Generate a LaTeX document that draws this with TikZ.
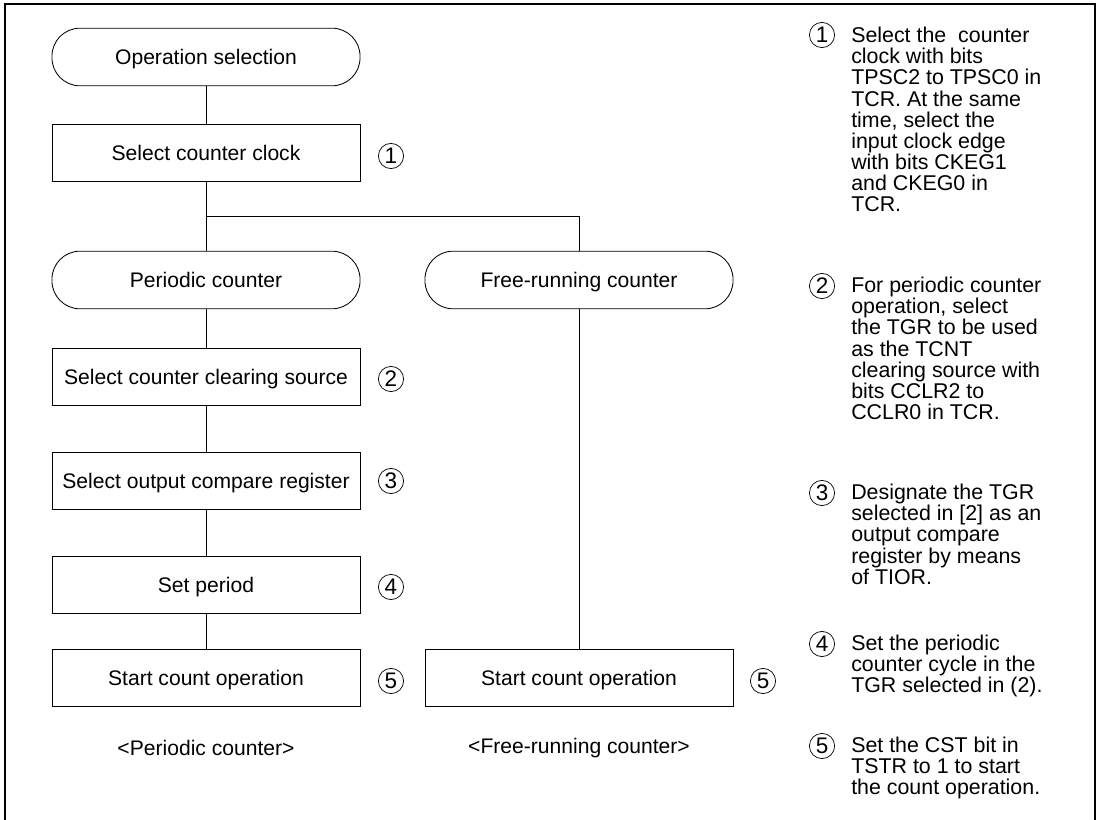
\documentclass[tikz,border=0pt]{standalone}
\usepackage{fontspec}
\setmainfont{Liberation Sans}
\usepackage{tikz}
\usetikzlibrary{positioning}
\tikzset{
  term/.style  ={draw, rounded corners=0.7cm, minimum width=7.7cm,
                 minimum height=1.44cm, inner sep=0pt, line width=0.6pt,
                 text height=12pt, text depth=1.5pt,
                 font=\fontsize{15}{15}\selectfont},
  stepbox/.style={draw, minimum width=7.7cm, minimum height=1.44cm,
                 inner sep=0pt, line width=0.6pt,
                 text height=12pt, text depth=1.5pt,
                 font=\fontsize{15}{15}\selectfont},
  num/.style   ={draw, circle, minimum size=0.63cm, inner sep=0pt,
                 line width=0.5pt, font=\fontsize{16}{16}\selectfont},
  lnk/.style   ={line width=0.6pt},
  capt/.style  ={font=\fontsize{15}{15}\selectfont},
  note/.style  ={anchor=north west, align=left, inner sep=0pt,
                 font=\fontsize{15.2}{15}\selectfont},
}

\begin{document}
\begin{tikzpicture}[x=0.025cm, y=-0.025cm]
  \useasboundingbox (0,0) rectangle (1099,820);
  \draw[line width=0.8pt] (5,822) -- (5,4) -- (1095,4) -- (1095,822);
  % left column, centre x = 206
  \node[term]    (op)  at (206,57)  {Operation selection};
  \node[stepbox] (clk) at (206,153) {Select counter clock};
  \coordinate    (split) at (206,216);
  \node[term]    (per) at (206,280) {Periodic counter};
  \node[stepbox] (clr) at (206,377) {Select counter clearing source};
  \node[stepbox] (ocr) at (206,481) {Select output compare register};
  \node[stepbox] (prd) at (206,585) {Set period};
  \node[stepbox] (stp) at (206,678) {Start count operation};
  % right column, centre x = 579
  \node[term]    (free) at (579,280) {Free-running counter};
  \node[stepbox] (stf)  at (579,678) {Start count operation};
  % step numbers
  \node[num] (c1) at (391,156) {1};
  \node[num] (c2) at (391,379) {2};
  \node[num] (c3) at (391,481) {3};
  \node[num] (c4) at (391,587) {4};
  \node[num] (c5) at (391,681) {5};
  \node[num] (c5f) at (763,681) {5};
  \node[capt] (lp) at (206,748) {<Periodic counter>};
  \node[capt] (lf) at (579,748) {<Free-running counter>};
  % connectors
  \draw[lnk] (op) -- (clk);
  \draw[lnk] (clk) -- (per);
  \draw[lnk] (split) -| (free);
  \draw[lnk] (per) -- (clr);
  \draw[lnk] (clr) -- (ocr);
  \draw[lnk] (ocr) -- (prd);
  \draw[lnk] (prd) -- (stp);
  \draw[lnk] (free) -- (stf);
  % notes on the right
  \node[num] (r1) at (822,35)  {1};
  \node[num] (r2) at (822,286) {2};
  \node[num] (r3) at (822,493) {3};
  \node[num] (r4) at (822,644) {4};
  \node[num] (r5) at (822,746) {5};
  \node[note] (t1) at (851,27) {Select the\ \ counter\\clock with bits\\TPSC2 to TPSC0 in\\
    TCR. At the same\\time, select the\\input clock edge\\with bits CKEG1\\and CKEG0 in\\TCR.};
  \node[note] (t2) at (851,277) {For periodic counter\\operation, select\\the TGR to be used\\
    as the TCNT\\clearing source with\\bits CCLR2 to\\CCLR0 in TCR.};
  \node[note] (t3) at (851,484) {Designate the TGR\\selected in [2] as an\\output compare\\
    register by means\\of TIOR.};
  \node[note] (t4) at (851,635) {Set the periodic\\counter cycle in the\\TGR selected in (2).};
  \node[note] (t5) at (851,737) {Set the CST bit in\\TSTR to 1 to start\\the count operation.};
\end{tikzpicture}
\end{document}
